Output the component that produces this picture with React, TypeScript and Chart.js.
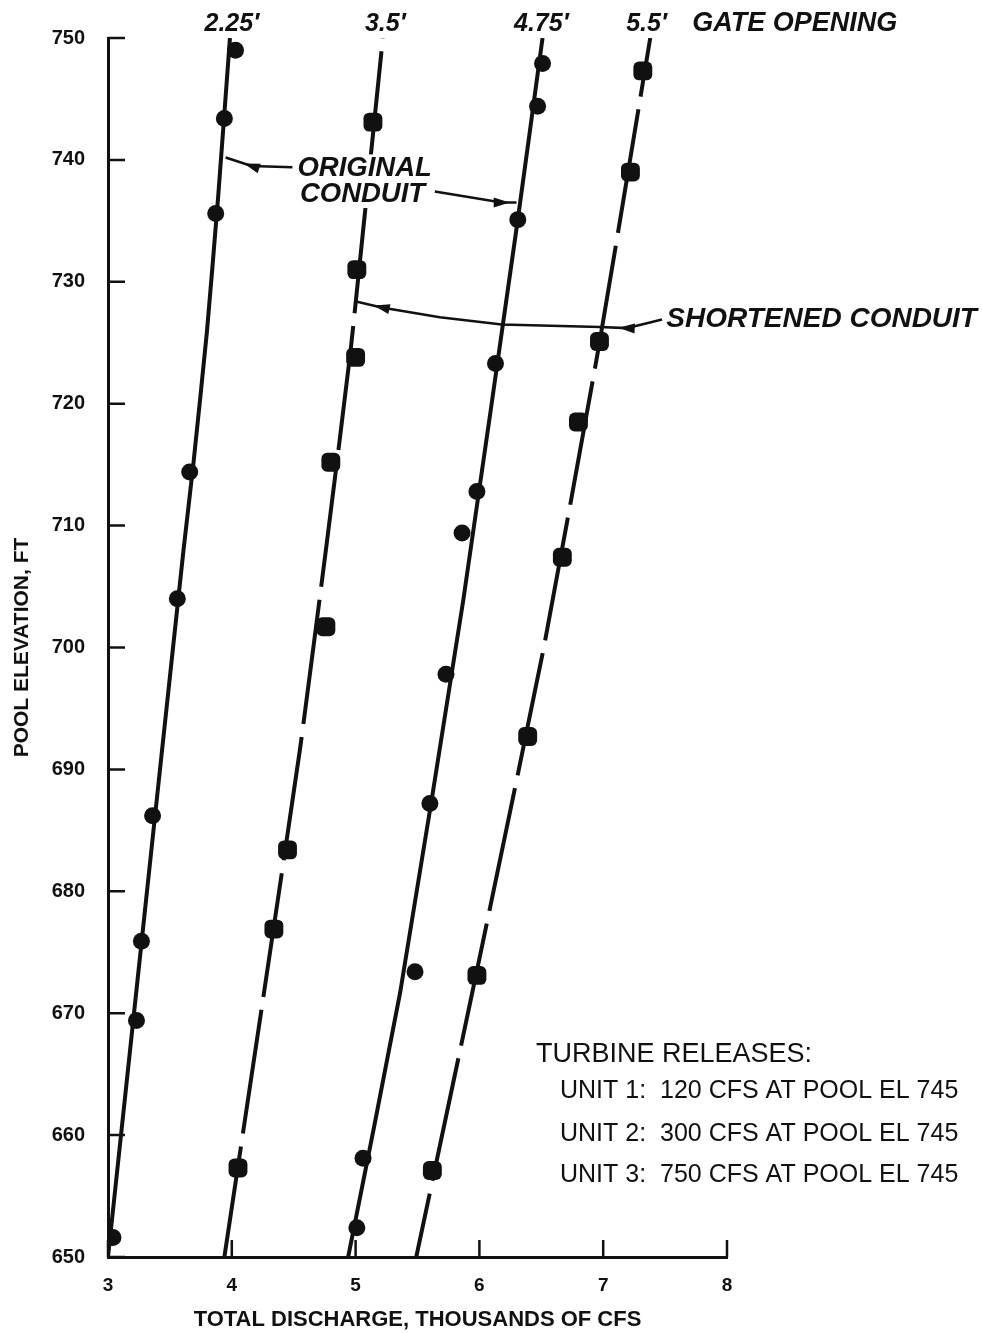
import React, { useEffect, useRef } from "react";
import { Chart, registerables } from "chart.js";

Chart.register(...registerables);

// ---------- axis ticks ----------
const xTickValues = [3, 4, 5, 6, 7, 8];
const yTickValues = [650, 660, 670, 680, 690, 700, 710, 720, 730, 740, 750];

// ---------- measured points (discharge, pool elevation) ----------
const orig225Points: [number, number][] = [
  [4.03, 749.0], [3.94, 743.4], [3.87, 735.6], [3.66, 714.4], [3.56, 704.0],
  [3.36, 686.2], [3.27, 675.9], [3.23, 669.4], [3.04, 651.6],
];
const short35Points: [number, number][] = [
  [5.14, 743.1], [5.01, 731.0], [5.0, 723.8], [4.8, 715.2], [4.76, 701.7],
  [4.45, 683.4], [4.34, 676.9], [4.05, 657.3],
];
const orig475Points: [number, number][] = [
  [6.51, 747.9], [6.47, 744.4], [6.31, 735.1], [6.13, 723.3], [5.98, 712.8],
  [5.86, 709.4], [5.73, 697.8], [5.6, 687.2], [5.48, 673.4], [5.06, 658.1], [5.01, 652.4],
];
const short55Points: [number, number][] = [
  [7.32, 747.3], [7.22, 739.0], [6.97, 725.1], [6.8, 718.5], [6.67, 707.4],
  [6.39, 692.7], [5.98, 673.1], [5.62, 657.1],
];

// ---------- fitted curves ----------
const orig225Curve: [number, number][] = [
  [3.0, 650], [3.21, 670], [3.42, 690], [3.61, 708], [3.69, 715.1], [3.8, 726], [3.89, 737], [3.985, 750],
];
const short35Curve: [number, number][] = [
  [3.94, 650], [4.25, 671], [4.55, 691.6], [4.76, 708], [4.96, 724.4], [5.22, 750],
];
const orig475Curve: [number, number][] = [
  [4.94, 650], [5.36, 671.7], [5.87, 703.9], [6.31, 735.1], [6.51, 750],
];
const short55Curve: [number, number][] = [
  [5.49, 650], [5.98, 673.5], [6.52, 700], [6.97, 725], [7.38, 750],
];

// ---------- labels ----------
const gateLabels = ["2.25\u2032", "3.5\u2032", "4.75\u2032", "5.5\u2032"];
const gateLabelX = [4.0, 5.24, 6.5, 7.35];
const gateTitle = "GATE OPENING";
const gateTitleX = 7.72;
const gateLabelY = 751.15;

const originalText = ["ORIGINAL", "CONDUIT"];
const originalTextPos: [number, number][] = [[4.53, 739.3], [4.55, 737.2]];
const originalArrowLeft: [number, number][] = [[4.49, 739.4], [4.16, 739.5], [3.95, 740.2]];
const originalArrowRight: [number, number][] = [[5.64, 737.4], [6.18, 736.5], [6.3, 736.5]];

const shortenedText = "SHORTENED CONDUIT";
const shortenedTextPos: [number, number] = [7.51, 726.9];
const shortenedArrow: [number, number][] = [
  [7.475, 726.9], [7.19, 726.2], [6.97, 726.3], [6.18, 726.5], [5.68, 727.1], [5.21, 727.9], [4.995, 728.4],
];

const turbineTitle = "TURBINE RELEASES:";
const turbineTitlePos: [number, number] = [6.457, 666.6];
const turbineLines = [
  "UNIT 1:  120 CFS AT POOL EL 745",
  "UNIT 2:  300 CFS AT POOL EL 745",
  "UNIT 3:  750 CFS AT POOL EL 745",
];
const turbineLineX = 6.651;
const turbineLineY = [663.6, 660.1, 656.7];

const FONT = "'Liberation Sans', Arial, Helvetica, sans-serif";
const INK = "#111";

const toXY = (pts: [number, number][]) => pts.map(([x, y]) => ({ x, y }));

function drawArrowHead(ctx: CanvasRenderingContext2D, px: number, py: number, qx: number, qy: number) {
  const dx = qx - px;
  const dy = qy - py;
  const len = Math.hypot(dx, dy) || 1;
  const ux = dx / len;
  const uy = dy / len;
  const tipX = px + ux * 8;
  const tipY = py + uy * 8;
  const baseX = px - ux * 8;
  const baseY = py - uy * 8;
  ctx.beginPath();
  ctx.moveTo(tipX, tipY);
  ctx.lineTo(baseX - uy * 5, baseY + ux * 5);
  ctx.lineTo(baseX + uy * 5, baseY - ux * 5);
  ctx.closePath();
  ctx.fill();
}

const annotationPlugin = {
  id: "annotations",
  afterDraw(chart: any) {
    const { ctx, chartArea, scales } = chart;
    const xs = scales.x;
    const ys = scales.y;
    const X = (v: number) => xs.getPixelForValue(v);
    const Y = (v: number) => ys.getPixelForValue(v);
    ctx.save();
    ctx.strokeStyle = INK;
    ctx.fillStyle = INK;

    // inner tick marks
    ctx.lineWidth = 2.5;
    ctx.beginPath();
    yTickValues.forEach((v) => {
      const py = Y(v);
      ctx.moveTo(chartArea.left, py);
      ctx.lineTo(chartArea.left + 17, py);
    });
    xTickValues.forEach((v) => {
      const px = X(v);
      ctx.moveTo(px, chartArea.bottom);
      ctx.lineTo(px, chartArea.bottom - 17);
    });
    ctx.stroke();

    // gate opening labels
    ctx.font = `italic bold 25px ${FONT}`;
    ctx.textBaseline = "middle";
    ctx.textAlign = "center";
    gateLabels.forEach((t, i) => ctx.fillText(t, X(gateLabelX[i]), Y(gateLabelY)));
    ctx.textAlign = "left";
    ctx.font = `italic bold 27px ${FONT}`;
    ctx.fillText(gateTitle, X(gateTitleX), Y(gateLabelY));

    // conduit annotations (white knock-out behind the text block)
    ctx.font = `italic bold 27.5px ${FONT}`;
    const w0 = Math.max(...originalText.map((t) => ctx.measureText(t).width));
    const bx = X(originalTextPos[0][0]) - 2;
    const by = Y(originalTextPos[0][1]) - 14;
    const bh = Y(originalTextPos[1][1]) - Y(originalTextPos[0][1]) + 28;
    ctx.fillStyle = "#fff";
    ctx.fillRect(bx, by, w0 + 6, bh);
    ctx.fillStyle = INK;
    originalText.forEach((t, i) => ctx.fillText(t, X(originalTextPos[i][0]), Y(originalTextPos[i][1])));
    ctx.font = `italic bold 28px ${FONT}`;
    ctx.fillText(shortenedText, X(shortenedTextPos[0]), Y(shortenedTextPos[1]));

    const drawPath = (pts: [number, number][], heads: number[]) => {
      ctx.lineWidth = 2.5;
      ctx.beginPath();
      pts.forEach(([x, y], i) => (i === 0 ? ctx.moveTo(X(x), Y(y)) : ctx.lineTo(X(x), Y(y))));
      ctx.stroke();
      heads.forEach((h) => {
        const [px, py] = pts[h];
        const [qx, qy] = pts[h + 1];
        drawArrowHead(ctx, X(px), Y(py), X(qx), Y(qy));
      });
    };
    drawPath(originalArrowLeft, [1]);
    drawPath(originalArrowRight, [1]);
    drawPath(shortenedArrow, [1, 5]);

    // turbine releases
    ctx.font = `27px ${FONT}`;
    ctx.fillText(turbineTitle, X(turbineTitlePos[0]), Y(turbineTitlePos[1]));
    ctx.font = `25px ${FONT}`;
    turbineLines.forEach((t, i) => ctx.fillText(t, X(turbineLineX), Y(turbineLineY[i])));

    ctx.restore();
  },
};

export default function App() {
  const canvasRef = useRef<HTMLCanvasElement | null>(null);

  useEffect(() => {
    document.body.style.margin = "0";
    const canvas = canvasRef.current;
    if (!canvas) return;

    const curve = (pts: [number, number][], dashed: boolean, dashOffset = 0) => ({
      data: toXY(pts),
      showLine: true,
      borderColor: INK,
      borderWidth: 4,
      borderDash: dashed ? [125, 13] : [],
      borderDashOffset: dashOffset,
      tension: 0.15,
      pointRadius: 0,
      fill: false,
      order: 2,
    });
    const marks = (pts: [number, number][], style: string, radius: number) => ({
      data: toXY(pts),
      showLine: false,
      pointStyle: style,
      pointRadius: radius,
      pointBackgroundColor: INK,
      pointBorderColor: INK,
      pointBorderWidth: 0,
      order: 1,
    });

    const chart = new Chart(canvas, {
      type: "scatter",
      data: {
        datasets: [
          marks(orig225Points, "circle", 8.5),
          marks(short35Points, "rectRounded", 11),
          marks(orig475Points, "circle", 8.5),
          marks(short55Points, "rectRounded", 11),
          curve(orig225Curve, false),
          curve(short35Curve, true, 13),
          curve(orig475Curve, false),
          curve(short55Curve, true, 60),
        ] as any,
      },
      options: {
        animation: false,
        responsive: true,
        maintainAspectRatio: false,
        layout: { padding: { left: 0, top: 38, right: 255, bottom: 0 } },
        plugins: {
          legend: { display: false },
          tooltip: { enabled: false },
        },
        scales: {
          x: {
            type: "linear",
            min: 3,
            max: 8,
            afterFit: (s: any) => {
              s.height = 76;
            },
            afterBuildTicks: (s: any) => {
              s.ticks = xTickValues.map((v) => ({ value: v }));
            },
            grid: { display: false, drawTicks: false },
            border: { display: true, color: INK, width: 3 },
            ticks: {
              padding: 17,
              color: INK,
              font: { family: FONT, size: 19, weight: "bold" },
              maxRotation: 0,
              autoSkip: false,
            },
            title: {
              display: true,
              text: "TOTAL DISCHARGE, THOUSANDS OF CFS",
              color: INK,
              font: { family: FONT, size: 22, weight: "bold" },
              padding: { top: 0, bottom: 0 },
            },
          },
          y: {
            type: "linear",
            min: 650,
            max: 750,
            afterFit: (s: any) => {
              s.width = 108;
            },
            afterBuildTicks: (s: any) => {
              s.ticks = yTickValues.map((v) => ({ value: v }));
            },
            grid: { display: false, drawTicks: false },
            border: { display: true, color: INK, width: 3 },
            ticks: {
              padding: 23,
              color: INK,
              font: { family: FONT, size: 20, weight: "bold" },
              autoSkip: false,
            },
            title: {
              display: true,
              text: "POOL ELEVATION, FT",
              color: INK,
              font: { family: FONT, size: 21, weight: "bold" },
              padding: { top: 10, bottom: 0 },
            },
          },
        },
      } as any,
      plugins: [annotationPlugin],
    });

    return () => chart.destroy();
  }, []);

  return (
    <div style={{ width: 982, height: 1333, position: "relative", background: "#fff" }}>
      <canvas ref={canvasRef} />
    </div>
  );
}
